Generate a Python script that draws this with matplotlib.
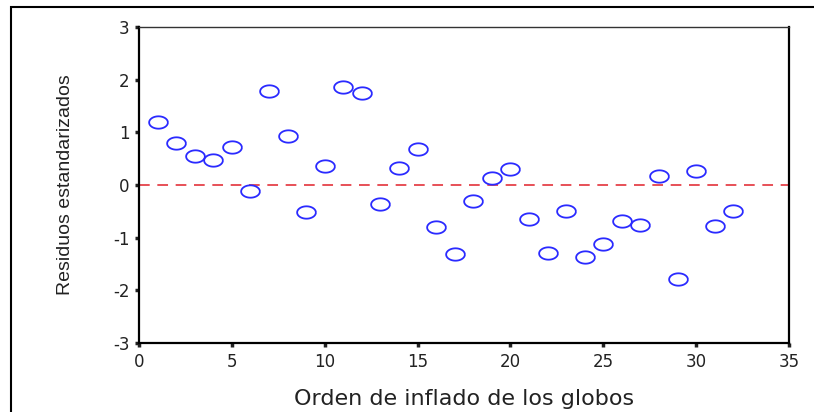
import matplotlib
matplotlib.use("Agg")
import matplotlib.pyplot as plt
import numpy as np
from matplotlib.path import Path
from matplotlib.patches import Rectangle

# Data
orden = list(range(1, 33))
residuos = [1.20, 0.80, 0.55, 0.47, 0.72, -0.11, 1.78, 0.93,
            -0.51, 0.36, 1.86, 1.75, -0.36, 0.32, 0.68, -0.80,
            -1.31, -0.30, 0.13, 0.30, -0.65, -1.29, -0.49, -1.37,
            -1.12, -0.68, -0.76, 0.17, -1.78, 0.27, -0.78, -0.49]
x_ticks = [0, 5, 10, 15, 20, 25, 30, 35]
y_ticks = [-3, -2, -1, 0, 1, 2, 3]

plt.rcParams['font.family'] = ['DejaVu Sans']
plt.rcParams['axes.unicode_minus'] = False

fig = plt.figure(figsize=(8.14, 4.12), dpi=100)
ax = fig.add_axes([0.1708, 0.1675, 0.7985, 0.767])

# outer frame (only left and top edges visible in the picture)
fig.patches.append(Rectangle((11 / 814, -0.1), 1.2, 1.1 - 7 / 412,
                             transform=fig.transFigure, fill=False,
                             edgecolor='black', linewidth=1.5))

# wide ellipse marker
t = np.linspace(0, 2 * np.pi, 41)
ellipse = Path(np.column_stack([np.cos(t), 0.66 * np.sin(t)]))

ax.axhline(0, color='#e0202a', linestyle=(0, (7, 5)), linewidth=1.1, zorder=1)
ax.plot(orden, residuos, linestyle='none', marker=ellipse, markersize=13.5,
        markerfacecolor='none', markeredgecolor='#2a2aff', markeredgewidth=1.3,
        zorder=2)

ax.set_xlim(0, 35)
ax.set_ylim(-3, 3)
ax.set_xticks(x_ticks)
ax.set_yticks(y_ticks)
ax.tick_params(direction='out', length=3, width=2.5, labelsize=12,
               colors='#222222', pad=4)

for side in ['left', 'bottom', 'right']:
    ax.spines[side].set_linewidth(1.6)
ax.spines['top'].set_linewidth(1.0)
ax.spines['top'].set_color('#333333')

ax.set_xlabel('Orden de inflado de los globos', fontsize=16, labelpad=13,
              color='#222222')
ax.set_ylabel('Residuos estandarizados', fontsize=14, labelpad=28,
              family=['Liberation Sans', 'DejaVu Sans'], color='#222222')

fig.savefig('out.png', dpi=100)
